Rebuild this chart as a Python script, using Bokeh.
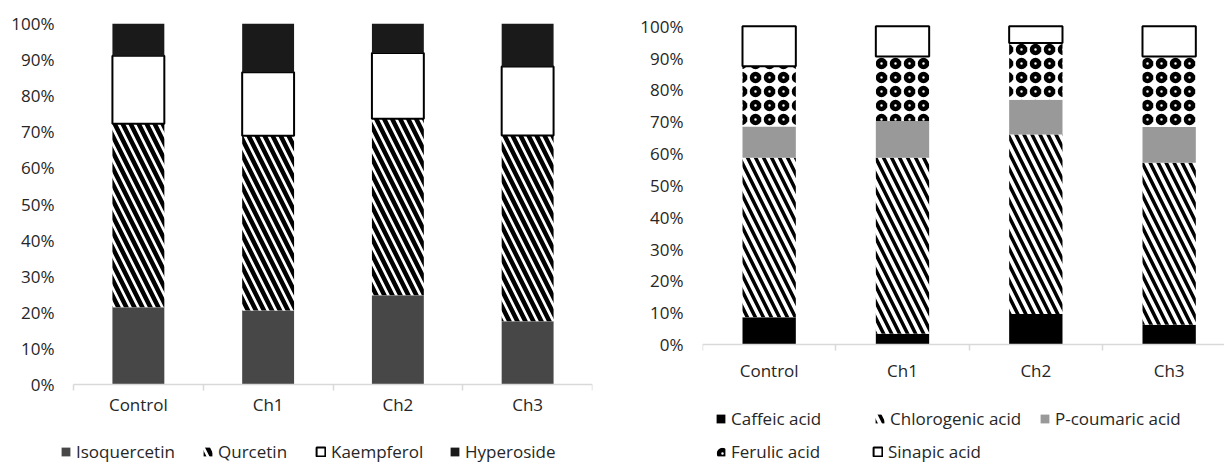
from bokeh.plotting import figure
from bokeh.models import ColumnDataSource, Range1d, FixedTicker, Legend, LegendItem
from bokeh.layouts import row
from bokeh.transform import stack
from bokeh.embed import file_html
from bokeh.resources import INLINE

categories = ["Control", "Ch1", "Ch2", "Ch3"]

# Left chart (flavonoids), % of total
isoquercetin = [21.4, 20.5, 24.7, 17.5]
qurcetin = [50.8, 48.4, 48.9, 51.5]
kaempferol = [18.9, 17.6, 18.2, 19.1]
hyperoside = [8.9, 13.5, 8.2, 11.9]

# Right chart (phenolic acids), % of total
caffeic = [8.6, 3.4, 9.6, 6.2]
chlorogenic = [50.1, 55.3, 56.4, 50.9]
pcoumaric = [9.8, 11.5, 10.9, 11.2]
ferulic = [18.9, 20.3, 17.8, 22.2]
sinapic = [12.6, 9.5, 5.3, 9.5]

y_ticks = list(range(0, 101, 10))

FONT = "Open Sans"
FS = "17px"
TXT = "#262626"
AX = "#d9d9d9"
W = 0.4
n = len(categories)


def style(p, y_standoff, x_standoff):
    p.xgrid.visible = False
    p.ygrid.visible = False
    p.outline_line_color = None
    xa = p.xaxis[0]
    xa.fixed_location = 0
    xa.bounds = (0, n)
    xa.ticker = FixedTicker(ticks=[i + 0.5 for i in range(n)],
                            minor_ticks=[float(i) for i in range(n + 1)])
    xa.major_label_overrides = {i + 0.5: c for i, c in enumerate(categories)}
    xa.major_tick_line_color = None
    xa.major_tick_out = 0
    xa.major_tick_in = 0
    xa.minor_tick_line_color = AX
    xa.minor_tick_line_width = 1.5
    xa.minor_tick_out = 6
    xa.minor_tick_in = 0
    xa.axis_line_color = AX
    xa.axis_line_width = 1.5
    xa.major_label_standoff = x_standoff
    xa.major_label_text_font = FONT
    xa.major_label_text_font_size = FS
    xa.major_label_text_color = TXT
    ya = p.yaxis[0]
    ya.ticker = FixedTicker(ticks=y_ticks)
    ya.major_label_overrides = {t: f"{t}%" for t in y_ticks}
    ya.axis_line_color = None
    ya.major_tick_line_color = None
    ya.minor_tick_line_color = None
    ya.major_tick_out = 0
    ya.major_tick_in = 0
    ya.major_label_standoff = y_standoff
    ya.major_label_text_font = FONT
    ya.major_label_text_font_size = FS
    ya.major_label_text_color = TXT


def add_leg(p, label, r, x, y):
    lg = Legend(items=[LegendItem(label=label, renderers=[r])],
                location=(x, y), orientation="horizontal",
                glyph_width=11, glyph_height=11, label_standoff=5,
                padding=0, margin=0, spacing=0,
                border_line_color=None, background_fill_alpha=0,
                label_text_font=FONT, label_text_font_size=FS,
                label_text_color=TXT, label_height=23)
    p.add_layout(lg, "center")


xs = [i + 0.5 for i in range(n)]

# ---------------- left ----------------
# frame: page x 56..592, y 23..463 ; 0% at y=384, 100% at y=23
src_l = ColumnDataSource(dict(x=xs, iso=isoquercetin, qur=qurcetin,
                              kae=kaempferol, hyp=hyperoside))
pl = figure(width=608, height=463,
            x_range=Range1d(-(73 - 56) / 129.75, 4),
            y_range=Range1d(-(463 - 384) / 3.61, 100),
            output_backend="svg", toolbar_location=None,
            min_border_left=56, min_border_right=16, min_border_top=23, min_border_bottom=0)
style(pl, 2, 2)
r_iso = pl.vbar(x="x", bottom=0, top="iso", width=W, source=src_l,
                fill_color="#474747", line_color=None)
r_qur = pl.vbar(x="x", bottom=stack("iso"), top=stack("iso", "qur"), width=W, source=src_l,
                fill_color="white", line_color=None,
                hatch_pattern="left_diagonal_line", hatch_color="black",
                hatch_scale=16, hatch_weight=4.5)
r_kae = pl.vbar(x="x", bottom=stack("iso", "qur"), top=stack("iso", "qur", "kae"), width=W,
                source=src_l, fill_color="white", line_color="black", line_width=2)
r_hyp = pl.vbar(x="x", bottom=stack("iso", "qur", "kae"), top=stack("iso", "qur", "kae", "hyp"),
                width=W, source=src_l, fill_color="#1a1a1a", line_color=None)
ly = 0.5
add_leg(pl, "Isoquercetin", r_iso, 4, ly)
add_leg(pl, "Qurcetin", r_qur, 146, ly)
add_leg(pl, "Kaempferol", r_kae, 259, ly)
add_leg(pl, "Hyperoside", r_hyp, 393, ly)

# ---------------- right ----------------
# frame: page x 702..1224, y 23..463 ; 0% at y=344, 100% at y=25.7
cw = 133.33
sc = (344 - 25.7) / 100
src_r = ColumnDataSource(dict(x=xs, caf=caffeic, chl=chlorogenic, pco=pcoumaric,
                              fer=ferulic, sin=sinapic))
pr = figure(width=616, height=463,
            x_range=Range1d(0, (1224 - 702) / cw),
            y_range=Range1d(-(463 - 344) / sc, 100 + (25.7 - 23) / sc),
            output_backend="svg", toolbar_location=None,
            min_border_left=94, min_border_right=0, min_border_top=23, min_border_bottom=0)
style(pr, 19, 8)
r_caf = pr.vbar(x="x", bottom=0, top="caf", width=W, source=src_r,
                fill_color="black", line_color=None)
r_chl = pr.vbar(x="x", bottom=stack("caf"), top=stack("caf", "chl"), width=W, source=src_r,
                fill_color="white", line_color=None,
                hatch_pattern="left_diagonal_line", hatch_color="black",
                hatch_scale=16, hatch_weight=3.5)
r_pco = pr.vbar(x="x", bottom=stack("caf", "chl"), top=stack("caf", "chl", "pco"), width=W,
                source=src_r, fill_color="#999999", line_color=None)
r_fer = pr.vbar(x="x", bottom=stack("caf", "chl", "pco"), top=stack("caf", "chl", "pco", "fer"),
                width=W, source=src_r, fill_color="white", line_color=None,
                hatch_pattern="ring", hatch_color="black", hatch_scale=14, hatch_weight=4.5)
r_sin = pr.vbar(x="x", bottom=stack("caf", "chl", "pco", "fer"),
                top=stack("caf", "chl", "pco", "fer", "sin"), width=W, source=src_r,
                fill_color="white", line_color="black", line_width=2)
ry1 = 33.5
ry2 = 0
add_leg(pr, "Caffeic acid", r_caf, 13, ry1)
add_leg(pr, "Chlorogenic acid", r_chl, 172, ry1)
add_leg(pr, "P-coumaric acid", r_pco, 337, ry1)
add_leg(pr, "Ferulic acid", r_fer, 13, ry2)
add_leg(pr, "Sinapic acid", r_sin, 170, ry2)

layout = row(pl, pr)
open("out.html", "w").write(file_html(layout, INLINE))
